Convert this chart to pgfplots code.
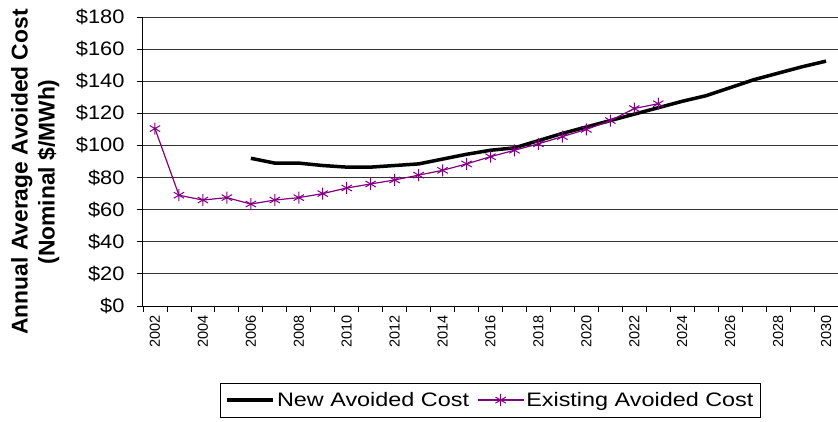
\documentclass[border=0pt]{standalone}
\usepackage{graphicx}
\usepackage{pgfplots}
\pgfplotsset{compat=1.18}
\usepackage{fontspec}
\setmainfont{Liberation Sans}
\definecolor{purp}{HTML}{800080}
\newcommand{\wide}[1]{\scalebox{1.12}[1]{#1}}
\newcommand{\wider}[1]{\scalebox{1.2}[1]{#1}}
\begin{document}
\begin{tikzpicture}
\begin{axis}[
  scale only axis,
  width=695pt, height=289pt,
  xmin=-0.5, xmax=28.5,
  ymin=0, ymax=180,
  axis lines=left,
  axis line style={-, line width=1pt, black},
  ytick={0,20,...,180},
  yticklabel={\wide{\$\pgfmathprintnumber[assume math mode=true]{\tick}}},
  yticklabel style={font=\fontsize{19.5}{22}\selectfont, xshift=-9pt},
  xtick={0,2,...,28},
  xticklabels={2002,2004,2006,2008,2010,2012,2014,2016,2018,2020,2022,2024,2026,2028,2030},
  xticklabel style={rotate=90, anchor=east, font=\fontsize{14.5}{16}\selectfont},
  minor xtick={-0.5,0.5,...,28.5},
  major x tick style={draw=none},
  tick align=outside,
  major tick length=6pt,
  minor tick length=6pt,
  tick style={black, line width=0.8pt},
  ymajorgrids,
  grid style={black!80, line width=0.8pt},
  ylabel={Annual Average Avoided Cost\\(Nominal \$/MWh)},
  ylabel style={at={(axis description cs:-0.155,0.464)}, anchor=center, font=\bfseries\fontsize{22.8}{27}\selectfont, align=center},
  legend columns=2,
  legend style={at={(0.5,-0.266)}, anchor=north, draw=black, line width=0.8pt,
    font=\fontsize{19.5}{22}\selectfont, /tikz/every even column/.append style={column sep=6pt},
    inner xsep=5pt, inner ysep=7pt},
  legend image code/.code={\draw[mark repeat=2,mark phase=2,#1] plot coordinates {(0pt,0pt) (23pt,0pt) (46pt,0pt)};},
]
\addplot[black, line width=3.5pt, line join=round] coordinates {
(4,92) (5,89) (6,89) (7,87.5) (8,86.5) (9,86.5) (10,87.5) (11,88.5) (12,91.5) (13,94.5)
(14,97) (15,98.5) (16,103) (17,107.5) (18,111.5) (19,115.5) (20,119.5) (21,123.5) (22,127.5)
(23,131) (24,136) (25,141) (26,145) (27,149) (28,152.5)};
\addlegendentry{\wider{New Avoided Cost}}
\addplot[purp, line width=1.2pt, mark=asterisk, mark size=6pt, mark options={line width=1pt}] coordinates {
(0,110.5) (1,69) (2,66) (3,67.5) (4,63.5) (5,66) (6,67.5) (7,70) (8,73.5) (9,76) (10,78.5)
(11,81.5) (12,84.5) (13,88.5) (14,93) (15,97) (16,101) (17,105.5) (18,110) (19,115.5) (20,123) (21,126)};
\addlegendentry{\wider{Existing Avoided Cost}}
\end{axis}
\pgfresetboundingbox
\path[use as bounding box] (-143pt,-115pt) rectangle (695pt,306pt);
\end{tikzpicture}
\end{document}
